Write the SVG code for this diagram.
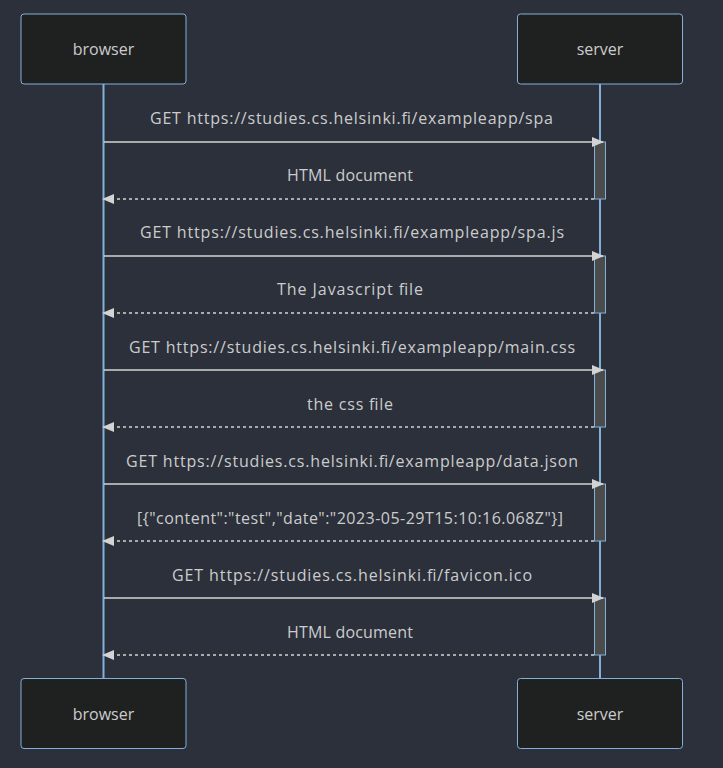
<svg xmlns="http://www.w3.org/2000/svg" width="723" height="768" viewBox="0 0 723 768">
<defs>
<style>
.actor{fill:#1f2020;stroke:#81b1db;stroke-width:1}
.lt{fill:#cccccc;font-family:"Open Sans","DejaVu Sans",sans-serif;font-size:16px;text-anchor:middle;dominant-baseline:central}
.life{stroke:#81b1db;stroke-width:2}
.msg{stroke:#d3d3d3;stroke-width:1.5;fill:none}
.dash{stroke-dasharray:3,3}
.act{fill:#4b4b4b;stroke:#81b1db;stroke-width:1}
</style>
<marker id="ah" viewBox="0 0 12 10" refX="11" refY="5" markerWidth="12" markerHeight="10" markerUnits="userSpaceOnUse" orient="auto">
<path d="M0,0 L12,5 L0,10 z" fill="#d3d3d3"/>
</marker>
</defs>
<rect width="723" height="768" fill="#2b303b"/>
<g id="lifelines">
<line class="life" x1="103.5" y1="84" x2="103.5" y2="678"/>
<line class="life" x1="600" y1="84" x2="600" y2="678"/>
</g>
<g id="browser-top"><rect class="actor" x="21" y="14" width="165" height="70" rx="3"/><text class="lt" x="103.5" y="49">browser</text></g>
<g id="server-top"><rect class="actor" x="517.5" y="14" width="165" height="70" rx="3"/><text class="lt" x="600" y="49">server</text></g>
<g id="browser-bottom"><rect class="actor" x="21" y="678.5" width="165" height="70" rx="3"/><text class="lt" x="103.5" y="713.5">browser</text></g>
<g id="server-bottom"><rect class="actor" x="517.5" y="678.5" width="165" height="70" rx="3"/><text class="lt" x="600" y="713.5">server</text></g>
<g id="activations">
<rect class="act" x="594.5" y="142" width="11" height="57"/>
<rect class="act" x="594.5" y="256" width="11" height="57"/>
<rect class="act" x="594.5" y="370" width="11" height="57"/>
<rect class="act" x="594.5" y="484" width="11" height="57"/>
<rect class="act" x="594.5" y="598" width="11" height="57"/>
</g>
<g id="connectors">
<line class="msg" x1="104" y1="142" x2="603" y2="142" marker-end="url(#ah)"/>
<line class="msg dash" x1="594" y1="199" x2="103" y2="199" marker-end="url(#ah)"/>
<line class="msg" x1="104" y1="256" x2="603" y2="256" marker-end="url(#ah)"/>
<line class="msg dash" x1="594" y1="313" x2="103" y2="313" marker-end="url(#ah)"/>
<line class="msg" x1="104" y1="370" x2="603" y2="370" marker-end="url(#ah)"/>
<line class="msg dash" x1="594" y1="427" x2="103" y2="427" marker-end="url(#ah)"/>
<line class="msg" x1="104" y1="484" x2="603" y2="484" marker-end="url(#ah)"/>
<line class="msg dash" x1="594" y1="541" x2="103" y2="541" marker-end="url(#ah)"/>
<line class="msg" x1="104" y1="598" x2="603" y2="598" marker-end="url(#ah)"/>
<line class="msg dash" x1="594" y1="655" x2="103" y2="655" marker-end="url(#ah)"/>
</g>
<g id="labels">
<text class="lt" x="351.5" y="118" textLength="403" lengthAdjust="spacing">GET https://studies.cs.helsinki.fi/exampleapp/spa</text>
<text class="lt" x="350" y="175" textLength="126" lengthAdjust="spacing">HTML document</text>
<text class="lt" x="352" y="232" textLength="424" lengthAdjust="spacing">GET https://studies.cs.helsinki.fi/exampleapp/spa.js</text>
<text class="lt" x="350" y="289" textLength="146" lengthAdjust="spacing">The Javascript file</text>
<text class="lt" x="352" y="347" textLength="446" lengthAdjust="spacing">GET https://studies.cs.helsinki.fi/exampleapp/main.css</text>
<text class="lt" x="350" y="404" textLength="86" lengthAdjust="spacing">the css file</text>
<text class="lt" x="352" y="461" textLength="452" lengthAdjust="spacing">GET https://studies.cs.helsinki.fi/exampleapp/data.json</text>
<text class="lt" x="350" y="518" textLength="426" lengthAdjust="spacing">[{"content":"test","date":"2023-05-29T15:10:16.068Z"}]</text>
<text class="lt" x="352" y="575" textLength="360" lengthAdjust="spacing">GET https://studies.cs.helsinki.fi/favicon.ico</text>
<text class="lt" x="350" y="632" textLength="126" lengthAdjust="spacing">HTML document</text>
</g>
</svg>
